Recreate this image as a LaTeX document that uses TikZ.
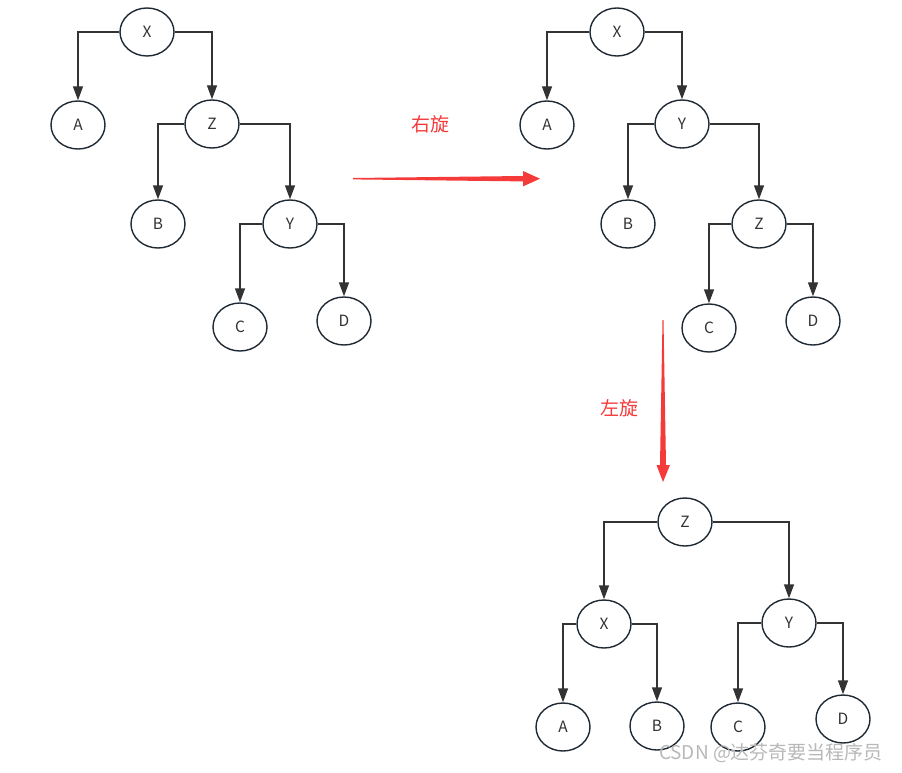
\documentclass[tikz,border=0pt]{standalone}
\usepackage{fontspec}
\setmainfont{Noto Sans CJK SC}
\usetikzlibrary{shapes.geometric,arrows.meta}
\definecolor{edgec}{HTML}{333333}
\definecolor{nodec}{HTML}{1F2933}
\definecolor{redc}{HTML}{F53A3A}
\begin{document}
\begin{tikzpicture}[x=1pt,y=-1pt,
  nd/.style={ellipse,draw=nodec,line width=1.4pt,minimum width=54pt,minimum height=48pt,inner sep=0pt,font=\fontsize{15.5}{15.5}\selectfont,text=edgec},
  ed/.style={draw=edgec,line width=1.4pt,-{Triangle[length=14pt,width=10pt]}},
  lbl/.style={text=redc,font=\fontsize{19}{19}\selectfont},
  bigarrow/.style={fill=redc,draw=none}]
\useasboundingbox (0,0) rectangle (902,773);
% tree 1
\node[nd] (x1) at (147,32) {X};
\node[nd] (a1) at (78,125) {A};
\node[nd] (z1) at (212,124) {Z};
\node[nd] (b1) at (158,224) {B};
\node[nd] (y1) at (290,224) {Y};
\node[nd] (c1) at (240,327) {C};
\node[nd] (d1) at (344,321) {D};
\draw[ed] (x1.west) -| (a1.north);
\draw[ed] (x1.east) -| (z1.north);
\draw[ed] (z1.west) -| (b1.north);
\draw[ed] (z1.east) -| (y1.north);
\draw[ed] (y1.west) -| (c1.north);
\draw[ed] (y1.east) -| (d1.north);
% tree 2
\node[nd] (x2) at (617,32) {X};
\node[nd] (a2) at (547,125) {A};
\node[nd] (y2) at (682,124) {Y};
\node[nd] (b2) at (628,224) {B};
\node[nd] (z2) at (759,224) {Z};
\node[nd] (c2) at (709,328) {C};
\node[nd] (d2) at (813,321) {D};
\draw[ed] (x2.west) -| (a2.north);
\draw[ed] (x2.east) -| (y2.north);
\draw[ed] (y2.west) -| (b2.north);
\draw[ed] (y2.east) -| (z2.north);
\draw[ed] (z2.west) -| (c2.north);
\draw[ed] (z2.east) -| (d2.north);
% tree 3
\node[nd] (z3) at (685,522) {Z};
\node[nd] (x3) at (604,624) {X};
\node[nd] (y3) at (789,623) {Y};
\node[nd] (a3) at (563,727) {A};
\node[nd] (b3) at (657,726) {B};
\node[nd] (c3) at (738,727) {C};
\node[nd] (d3) at (843,719) {D};
\draw[ed] (z3.west) -| (x3.north);
\draw[ed] (z3.east) -| (y3.north);
\draw[ed] (x3.west) -| (a3.north);
\draw[ed] (x3.east) -| (b3.north);
\draw[ed] (y3.west) -| (c3.north);
\draw[ed] (y3.east) -| (d3.north);
% rotation arrows
\coordinate (h0) at (353,178.7);
\coordinate (h1) at (540,178.7);
\fill[bigarrow] (353,178) -- (523,176) -- (523,171) -- (h1) -- (523,186.4) -- (523,181.4) -- (353,179.4) -- cycle;
\node[lbl] (rr) at (430,124) {右旋};
\coordinate (v0) at (663,320);
\coordinate (v1) at (663,482);
\fill[bigarrow] (662.5,320) -- (660,465) -- (656.5,465) -- (v1) -- (670,465) -- (666,465) -- (663.5,320) -- cycle;
\node[lbl] (lr) at (619,408) {左旋};
% watermark
\node[text=black!28,font=\fontsize{19}{19}\selectfont,anchor=center] (wm) at (771,753) {CSDN @达芬奇要当程序员};
\end{tikzpicture}
\end{document}
